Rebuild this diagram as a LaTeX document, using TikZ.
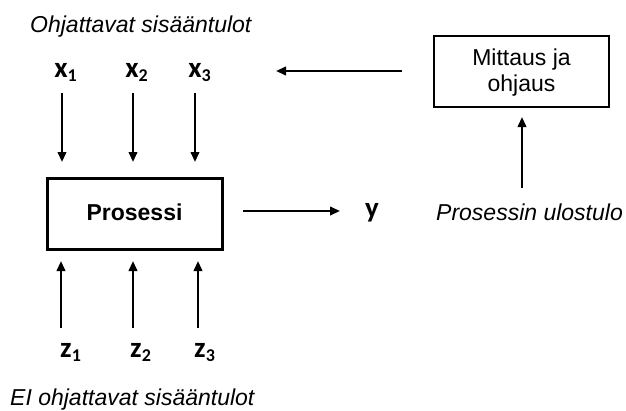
\documentclass[tikz,border=0pt]{standalone}
\usepackage{fontspec}
\setmainfont{Liberation Sans}
\newfontfamily\varfont{Carlito}
\usetikzlibrary{arrows.meta}
\tikzset{
  lbl/.style={font=\fontsize{23}{26}\selectfont, inner sep=0pt, anchor=base},
  itl/.style={font=\fontsize{23}{26}\selectfont\itshape, inner sep=0pt, anchor=base west},
  var/.style={font=\varfont\fontsize{29}{32}\selectfont\bfseries, inner sep=0pt, anchor=base},
  proc/.style={font=\fontsize{23}{26}\selectfont\bfseries, inner sep=0pt, anchor=base},
  arr/.style={line width=2.2pt, -{Triangle[length=10pt,width=8.5pt]}},
  box/.style={draw, line width=3pt, inner sep=0pt},
}
\newcommand{\vsub}[2]{#1\rlap{\raisebox{-4pt}{\fontsize{18}{18}\selectfont #2}}}
\begin{document}
\begin{tikzpicture}[x=1pt,y=-1pt]
\useasboundingbox (0,0) rectangle (626,410);
% top label
\node[itl] (top) at (30,32) {Ohjattavat sisääntulot};
% x inputs
\node[var] (x1) at (61,77) {\vsub{x}{1}};
\node[var] (x2) at (132,77) {\vsub{x}{2}};
\node[var] (x3) at (195,77) {\vsub{x}{3}};
\coordinate (x1s) at (62,93);  \coordinate (x1e) at (62,162);
\coordinate (x2s) at (133,93); \coordinate (x2e) at (133,162);
\coordinate (x3s) at (195,93); \coordinate (x3e) at (195,162);
\draw[arr] (x1s) -- (x1e);
\draw[arr] (x2s) -- (x2e);
\draw[arr] (x3s) -- (x3e);
% process box
\draw[box] (47,178) rectangle (222,249);
\node[proc] (proc) at (134.5,220) {Prosessi};
% output
\coordinate (os) at (243,211); \coordinate (oe) at (340,211);
\draw[arr] (os) -- (oe);
\node[var] (y) at (372,217) {y};
% z inputs
\coordinate (z1s) at (61,328); \coordinate (z1e) at (61,261);
\coordinate (z2s) at (133,328); \coordinate (z2e) at (133,261);
\coordinate (z3s) at (198,328); \coordinate (z3e) at (198,261);
\draw[arr] (z1s) -- (z1e);
\draw[arr] (z2s) -- (z2e);
\draw[arr] (z3s) -- (z3e);
\node[var] (z1) at (66,357) {\vsub{z}{1}};
\node[var] (z2) at (136,357) {\vsub{z}{2}};
\node[var] (z3) at (200,357) {\vsub{z}{3}};
\node[itl] (bot) at (10,405) {EI ohjattavat sisääntulot};
% control box
\draw[line width=2.2pt] (434,36) rectangle (609,107);
\node[lbl] (m1) at (521.5,65) {Mittaus ja};
\node[lbl] (m2) at (521.5,91) {ohjaus};
\coordinate (fs) at (402,71); \coordinate (fe) at (276,71);
\draw[arr] (fs) -- (fe);
\coordinate (us) at (522,188); \coordinate (ue) at (522,117);
\draw[arr] (us) -- (ue);
\node[itl] (pu) at (436,220) {Prosessin ulostulo};
\end{tikzpicture}
\end{document}
